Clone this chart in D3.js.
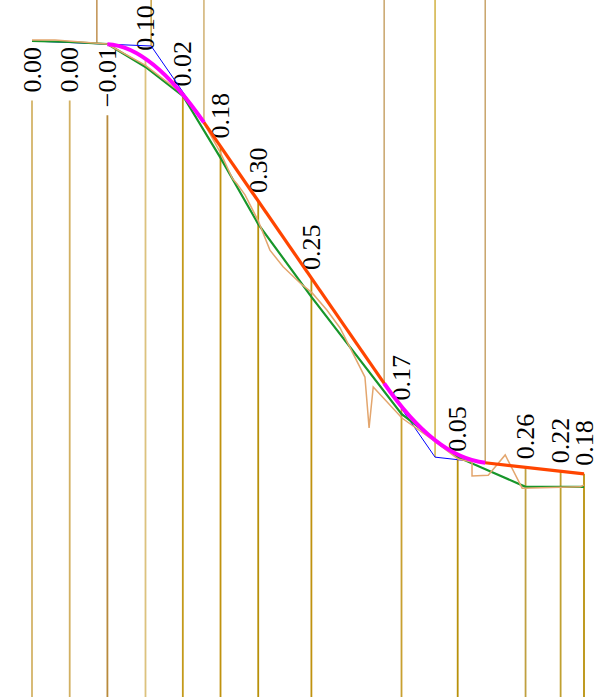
<!DOCTYPE html>
<html><head><meta charset="utf-8">
<script src="https://cdn.jsdelivr.net/npm/d3@7"></script>
<style>html,body{margin:0;padding:0;background:#fff;overflow:hidden}</style>
</head><body><svg id="chart" width="605" height="697"></svg>
<script>
// ---- data ----
const sampleX = [0, 1, 2, 3.01, 4, 5, 6, 7.41, 9.8, 11.29, 13.09, 14.02, 14.64];
const sampleValues = [0.00, 0.00, -0.01, 0.10, 0.02, 0.18, 0.30, 0.25, 0.17, 0.05, 0.26, 0.22, 0.18];
const smoothY = [0.22, 0.44, 0.89, 6.0, 12.4, 26.2, 40.9, 57.1, 83.1, 92.7, 99.3, 99.3, 99.3];
const rawX = [0, 0.61, 1.99, 3.0, 4.0, 4.59, 5.0, 5.31, 5.44, 5.65, 6.0, 6.31, 6.66, 7.11, 7.43, 7.82, 8.17, 8.83, 8.94, 9.05, 9.81, 10.64, 11.3, 11.67, 11.67, 12.1, 12.55, 13.0, 14.54, 14.64];
const rawY = [0, 0, 0.9, 5.6, 12.0, 18.9, 25.1, 30.7, 32.0, 34.4, 40.2, 46.7, 50.4, 54.0, 56.2, 60.0, 64.0, 74.9, 86.2, 77.1, 84.0, 88.9, 93.1, 93.8, 96.9, 96.7, 92.2, 99.6, 99.3, 98.9];
const vertexX = [0, 3.16, 10.69, 14.64];
const vertexY = [0.22, 1.33, 92.7, 96.4];
const knotX = [1.72, 3.16, 4.56, 9.34, 10.69, 12.02];
const cornerStartX = [2.0, 9.34];
const cornerEndX = [4.56, 12.02];

// ---- styles ----
const bottomColors = ["#d4b468","#d2b062","#b88a3c","#dcc27e","#c49a1a","#c0920e","#b8900a","#c0920e","#c8a030","#b8900a","#c0a040","#c0a030","#b8900a"];
const upperColors = ["#c09050","#c8a040","#d0b070","#c8a46a","#d0b040","#c8a46a"];

const W = 605, H = 697;
const svg = d3.select("#chart");
const x = d3.scaleLinear().domain([0, 14.64]).range([32, 584]);
const y = d3.scaleLinear().domain([0, 100]).range([40, 490]);

const V = vertexX.map((d, i) => [x(d), y(vertexY[i])]);
function blueY(px) {
  for (let i = 0; i < V.length - 1; i++) {
    if (px >= V[i][0] && px <= V[i + 1][0]) {
      const t = (px - V[i][0]) / (V[i + 1][0] - V[i][0]);
      return V[i][1] + t * (V[i + 1][1] - V[i][1]);
    }
  }
  return px < V[0][0] ? V[0][1] : V[V.length - 1][1];
}
const K = knotX.map(k => [x(k), blueY(x(k))]);
const CS = cornerStartX.map(k => [x(k), blueY(x(k))]);
const CE = cornerEndX.map(k => [x(k), blueY(x(k))]);
const straightSegs = [[CE[0], CS[1]], [CE[1], V[3]]];
const corners = [[CS[0], V[1], CE[0]], [CS[1], V[2], CE[1]]];
function quad(c, t) {
  const a = (1 - t) * (1 - t), b = 2 * t * (1 - t), e = t * t;
  return [a * c[0][0] + b * c[1][0] + e * c[2][0], a * c[0][1] + b * c[1][1] + e * c[2][1]];
}
function roundY(px) {
  for (const c of corners) {
    if (px >= c[0][0] && px <= c[2][0]) {
      let lo = 0, hi = 1;
      for (let k = 0; k < 40; k++) { const m = (lo + hi) / 2; if (quad(c, m)[0] < px) lo = m; else hi = m; }
      return quad(c, lo)[1];
    }
  }
  return blueY(px);
}

const fmt = d3.format(".2f");
const minTop = d3.min(sampleX, d => Math.min(blueY(x(d)), roundY(x(d))));
const fontSize = 26;
const lineGroup = svg.append("g");
const labelGroup = svg.append("g");
sampleX.forEach((d, i) => {
  const px = x(d);
  const top = Math.max(blueY(px), roundY(px));
  const t = labelGroup.append("text")
    .attr("font-family", "'Liberation Serif', 'Times New Roman', serif")
    .attr("font-size", fontSize)
    .attr("fill", "#000")
    .attr("dy", "0.33em")
    .text(fmt(sampleValues[i]));
  const len = t.node().getComputedTextLength();
  let lineStart;
  if (top - 8 - len >= 0) {
    t.attr("text-anchor", "start").attr("transform", `translate(${px},${top - 8}) rotate(-90)`);
    lineStart = top;
  } else {
    const y0 = minTop + 6;
    t.attr("text-anchor", "end").attr("transform", `translate(${px},${y0}) rotate(-90)`);
    lineStart = y0 + len + 8;
  }
  lineGroup.append("line")
    .attr("x1", px).attr("x2", px).attr("y1", lineStart).attr("y2", H)
    .attr("stroke", bottomColors[i]).attr("stroke-width", 1.8);
});
K.forEach((k, i) => {
  lineGroup.append("line").attr("x1", k[0]).attr("x2", k[0]).attr("y1", 0).attr("y2", k[1])
    .attr("stroke", upperColors[i]).attr("stroke-width", 1.5);
});

// blue polyline
svg.append("path").datum(V).attr("fill", "none").attr("stroke", "#0000ff")
  .attr("stroke-width", 1).attr("d", d3.line());
// green smoothed line
svg.append("path")
  .datum(sampleX.map((d, i) => [x(d), y(smoothY[i])]))
  .attr("fill", "none").attr("stroke", "#17962a").attr("stroke-width", 2.2)
  .attr("d", d3.line());
// raw noisy line
svg.append("path")
  .datum(rawX.map((d, i) => [x(d), y(rawY[i])]))
  .attr("fill", "none").attr("stroke", "#e3a66e").attr("stroke-width", 1.5)
  .attr("d", d3.line());
// orange straight segments
straightSegs.forEach(s => {
  svg.append("path").datum(s).attr("fill", "none").attr("stroke", "#ff4500")
    .attr("stroke-width", 3.2).attr("d", d3.line());
});
// magenta corners
corners.forEach(c => {
  const p = d3.path();
  p.moveTo(c[0][0], c[0][1]);
  p.quadraticCurveTo(c[1][0], c[1][1], c[2][0], c[2][1]);
  svg.append("path").attr("d", p.toString()).attr("fill", "none")
    .attr("stroke", "#ff00ff").attr("stroke-width", 4);
});
</script></body></html>
